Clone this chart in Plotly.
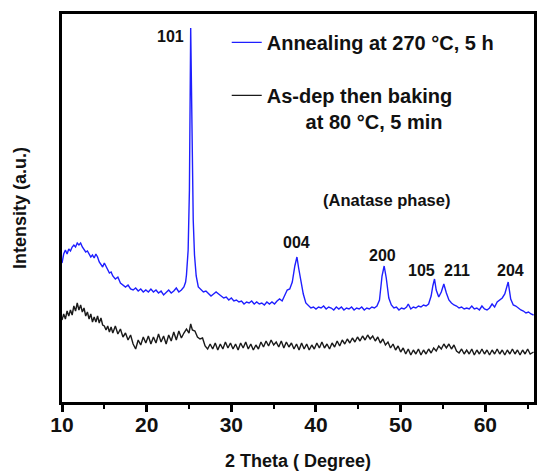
import plotly.graph_objects as go

# Annealed film (blue) - 2θ (deg) and intensity (a.u.)
two_theta_anneal = [
    10.0, 10.2, 10.4, 10.6, 10.8, 11.0, 11.2, 11.4, 11.6, 11.8, 12.0, 12.2, 12.4, 12.6, 12.8,
    13.0, 13.2, 13.4, 13.6, 13.8, 14.0, 14.2, 14.4, 14.6, 14.8, 15.0, 15.2, 15.4, 15.6, 15.8,
    16.0, 16.3, 16.6, 16.9, 17.2, 17.5, 17.8, 18.1, 18.4, 18.7, 19.0, 19.3, 19.6, 19.9, 20.2,
    20.5, 20.8, 21.1, 21.4, 21.7, 22.0, 22.3, 22.6, 22.9, 23.2, 23.5, 23.8, 24.1, 24.4, 24.6,
    24.7, 24.9, 25.05, 25.2, 25.35, 25.5, 25.65, 25.85, 26.1, 26.4, 26.7, 27.0, 27.3, 27.6,
    27.9, 28.2, 28.5, 28.8, 29.1, 29.4, 29.7, 30.0, 30.3, 30.6, 30.9, 31.2, 31.5, 31.8, 32.1,
    32.4, 32.7, 33.0, 33.3, 33.6, 33.9, 34.2, 34.5, 34.8, 35.1, 35.4, 35.7, 36.0, 36.3, 36.6,
    36.9, 37.2, 37.5, 37.75, 37.95, 38.2, 38.5, 38.8, 39.1, 39.4, 39.7, 40.0, 40.3, 40.6, 40.9,
    41.2, 41.5, 41.8, 42.1, 42.4, 42.7, 43.0, 43.3, 43.6, 43.9, 44.2, 44.5, 44.8, 45.1, 45.4,
    45.7, 46.0, 46.3, 46.6, 46.9, 47.2, 47.5, 47.8, 48.05, 48.3, 48.6, 48.9, 49.2, 49.5, 49.8,
    50.1, 50.4, 50.7, 50.9, 51.2, 51.5, 51.8, 52.1, 52.4, 52.7, 53.0, 53.3, 53.6, 53.8, 54.0,
    54.2, 54.5, 54.8, 55.1, 55.4, 55.7, 56.0, 56.3, 56.6, 56.9, 57.2, 57.5, 57.8, 58.1, 58.4,
    58.7, 59.0, 59.3, 59.6, 59.9, 60.2, 60.5, 60.8, 61.1, 61.4, 61.7, 62.0, 62.3, 62.7, 63.0,
    63.3, 63.6, 63.9, 64.2, 64.5, 64.8, 65.1, 65.4, 65.7,
]
intensity_anneal = [
    137, 146, 150, 146, 151, 149, 153, 155, 153, 157, 155, 157, 153, 151, 148,
    149, 146, 143, 145, 142, 146, 143, 138, 136, 133, 137, 134, 130, 127, 128,
    124, 121, 123, 117, 115, 113, 115, 111, 110, 112, 109, 111, 108, 110, 108,
    111, 108, 110, 107, 109, 105, 108, 110, 107, 109, 112, 108, 110, 113, 118,
    125, 150, 210, 372, 250, 180, 145, 124, 113, 110, 108, 109, 106, 104,
    106, 108, 106, 104, 102, 103, 100, 102, 99, 100, 98, 99, 96, 98, 97,
    99, 96, 98, 96, 97, 95, 98, 96, 98, 96, 99, 101, 99, 104, 110,
    111, 118, 134, 143, 132, 118, 106, 97, 94, 92, 93, 91, 93, 92, 94,
    91, 93, 92, 90, 93, 91, 93, 90, 92, 91, 93, 90, 92, 91, 93,
    90, 92, 91, 93, 92, 94, 100, 124, 134, 122, 102, 95, 92, 93, 90,
    92, 91, 93, 96, 91, 93, 92, 94, 93, 95, 94, 96, 104, 114, 121,
    110, 103, 108, 116, 107, 100, 97, 95, 94, 92, 93, 91, 92, 91, 94,
    91, 92, 90, 94, 91, 90, 92, 96, 93, 98, 100, 102, 106, 118, 101,
    95, 94, 92, 90, 89, 87, 88, 86, 85,
]

# As-deposited then baked film (black)
two_theta_asdep = [
    10.0, 10.2, 10.4, 10.6, 10.8, 11.0, 11.2, 11.4, 11.6, 11.8, 12.0, 12.2, 12.4, 12.6, 12.8,
    13.0, 13.2, 13.4, 13.6, 13.8, 14.0, 14.2, 14.4, 14.6, 14.8, 15.0, 15.2, 15.4, 15.6, 15.8,
    16.0, 16.3, 16.6, 16.9, 17.2, 17.5, 17.8, 18.1, 18.4, 18.7, 19.0, 19.3, 19.6, 19.9, 20.2,
    20.5, 20.8, 21.1, 21.4, 21.7, 22.0, 22.3, 22.6, 22.9, 23.2, 23.5, 23.8, 24.1, 24.4, 24.7,
    25.0, 25.2, 25.4, 25.7, 26.0, 26.3, 26.6, 26.9, 27.2, 27.5, 27.8, 28.1, 28.4, 28.7, 29.0,
    29.3, 29.6, 29.9, 30.2, 30.5, 30.8, 31.1, 31.4, 31.7, 32.0, 32.3, 32.6, 32.9, 33.2, 33.5,
    33.8, 34.1, 34.4, 34.7, 35.0, 35.3, 35.6, 35.9, 36.2, 36.5, 36.8, 37.1, 37.4, 37.7, 38.0,
    38.3, 38.6, 38.9, 39.2, 39.5, 39.8, 40.1, 40.4, 40.7, 41.0, 41.3, 41.6, 41.9, 42.2, 42.5,
    42.8, 43.1, 43.4, 43.7, 44.0, 44.3, 44.6, 44.9, 45.2, 45.5, 45.8, 46.1, 46.4, 46.7, 47.0,
    47.3, 47.6, 47.9, 48.2, 48.5, 48.8, 49.1, 49.4, 49.7, 50.0, 50.3, 50.6, 50.9, 51.2, 51.5,
    51.8, 52.1, 52.4, 52.7, 53.0, 53.3, 53.6, 53.9, 54.2, 54.5, 54.8, 55.1, 55.4, 55.7, 56.0,
    56.3, 56.6, 56.9, 57.2, 57.5, 57.8, 58.1, 58.4, 58.7, 59.0, 59.3, 59.6, 59.9, 60.2, 60.5,
    60.8, 61.1, 61.4, 61.7, 62.0, 62.3, 62.6, 62.9, 63.2, 63.5, 63.8, 64.1, 64.4, 64.7, 65.0,
    65.3, 65.7,
]
intensity_asdep = [
    80, 86, 81, 89, 84, 90, 85, 94, 89, 97, 90, 95, 88, 92, 84,
    88, 81, 86, 78, 83, 78, 84, 77, 82, 75, 74, 70, 74, 68, 73,
    67, 74, 66, 71, 63, 67, 60, 65, 56, 51, 60, 55, 63, 57, 64,
    56, 63, 57, 66, 58, 64, 56, 65, 59, 68, 60, 69, 62, 67, 71,
    67, 76, 70, 69, 63, 61, 62, 54, 51, 56, 51, 57, 50, 56, 51,
    58, 52, 57, 51, 56, 50, 57, 52, 58, 51, 56, 50, 55, 51, 58,
    53, 59, 54, 60, 55, 58, 53, 59, 52, 58, 53, 57, 51, 56, 50,
    57, 51, 56, 50, 55, 51, 57, 52, 58, 52, 56, 51, 57, 53, 59,
    54, 60, 56, 61, 57, 62, 58, 63, 59, 64, 60, 65, 61, 64, 59,
    63, 57, 61, 55, 58, 52, 56, 50, 54, 48, 52, 46, 51, 45, 50,
    46, 51, 45, 50, 46, 51, 47, 52, 49, 54, 51, 56, 52, 56, 51,
    55, 49, 47, 51, 46, 50, 46, 51, 45, 50, 46, 51, 46, 50, 45,
    50, 46, 51, 46, 50, 45, 50, 46, 51, 46, 50, 45, 50, 46, 51,
    46, 48,
]

# Peak (hkl) labels and their positions
peak_labels = ["101", "004", "200", "105", "211", "204"]
peak_label_x = [22.85, 37.7, 47.9, 52.5, 56.7, 63.0]
peak_label_y = [364, 158, 145, 130, 130, 130]

x_ticks = [10, 20, 30, 40, 50, 60]

FONT = "Liberation Sans, Arial, sans-serif"

fig = go.Figure()
fig.add_trace(go.Scatter(
    x=two_theta_anneal, y=intensity_anneal, mode="lines",
    line=dict(color="#1f1fff", width=1.4),
    name="Annealing at 270 °C, 5 h", legendgroup="a",
))
fig.add_trace(go.Scatter(
    x=two_theta_asdep, y=intensity_asdep, mode="lines",
    line=dict(color="#1a1a1a", width=1.4),
    name="As-dep then baking<br>" + "\u00a0" * 7 + "at 80 °C, 5 min", legendgroup="b",
))

for lab, lx, ly in zip(peak_labels, peak_label_x, peak_label_y):
    fig.add_annotation(x=lx, y=ly, text=lab, showarrow=False,
                       font=dict(family=FONT, size=16, color="#111", weight="bold"),
                       xanchor="center", yanchor="middle")

fig.add_annotation(x=48.35, y=200, text="(Anatase phase)", showarrow=False,
                   font=dict(family=FONT, size=16.5, color="#111", weight="bold"),
                   xanchor="center", yanchor="middle")

fig.update_layout(
    width=539, height=472,
    margin=dict(l=62, r=2, t=14, b=70),
    paper_bgcolor="white", plot_bgcolor="white",
    font=dict(family=FONT, color="#111"),
    showlegend=True,
    legend=dict(x=0.349, y=0.977, xanchor="left", yanchor="top",
                bgcolor="rgba(0,0,0,0)", borderwidth=0, valign="top",
                tracegroupgap=24,
                font=dict(family=FONT, size=20, color="#111", weight="bold")),
    xaxis=dict(
        range=[10, 65.75], showline=True, linecolor="black", linewidth=2.5, mirror=True,
        ticks="outside", ticklen=7, tickwidth=2.5, tickcolor="black",
        tickvals=x_ticks, ticktext=[str(v) for v in x_ticks],
        ticklabelstandoff=-5,
        minor=dict(ticks="outside", ticklen=4, tickwidth=2, tickcolor="black",
                   tickvals=[15, 25, 35, 45, 55, 65]),
        showgrid=False, zeroline=False,
        tickfont=dict(family=FONT, size=21, color="#111", weight="bold"),
        title=dict(text="2 Theta ( Degree)", standoff=20,
                   font=dict(family=FONT, size=18, color="#111", weight="bold")),
    ),
    yaxis=dict(
        range=[-2, 386], showline=True, linecolor="black", linewidth=2.5, mirror=True,
        showticklabels=False, ticks="", showgrid=False, zeroline=False,
        title=dict(text="Intensity (a.u.)", standoff=28,
                   font=dict(family=FONT, size=18, color="#111", weight="bold")),
    ),
)

fig.write_html("out.html")
